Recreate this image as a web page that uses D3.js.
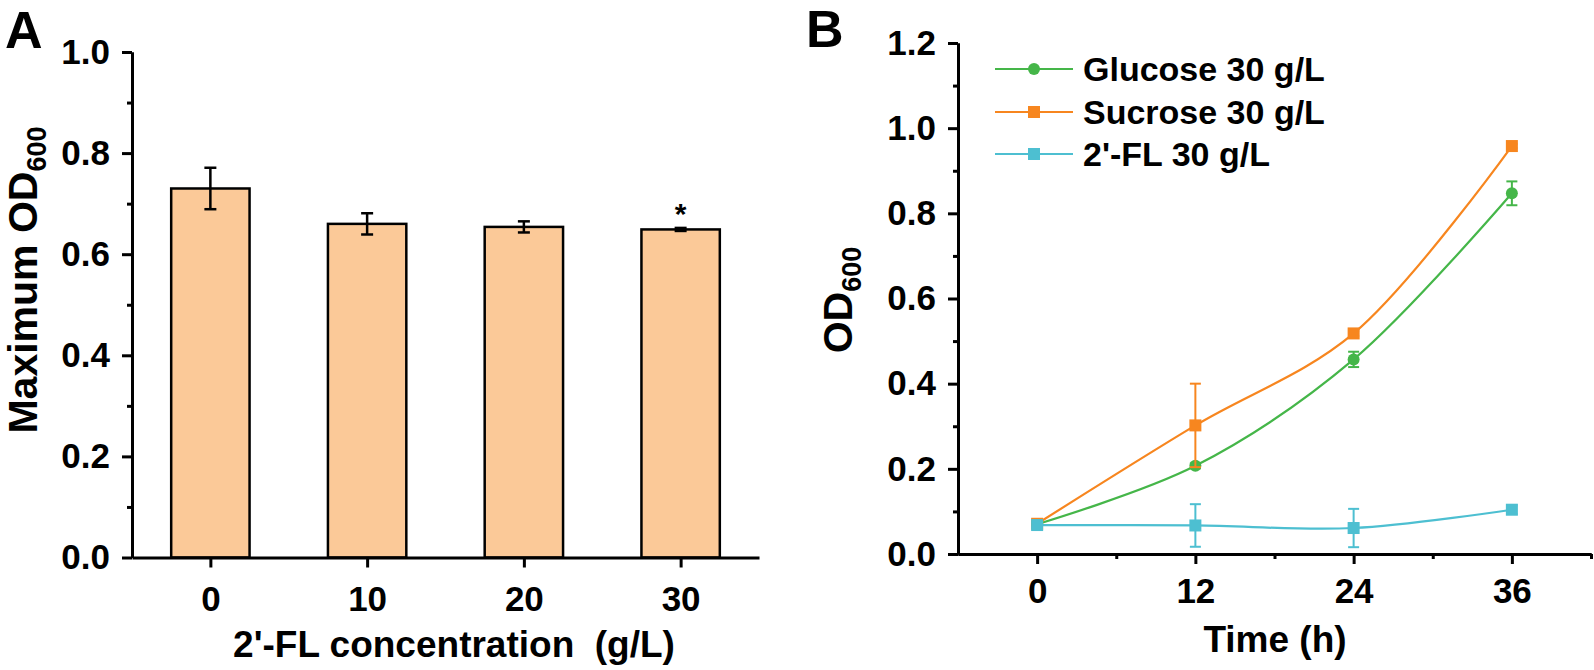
<!DOCTYPE html>
<html><head><meta charset="utf-8">
<script src="https://cdn.jsdelivr.net/npm/d3@7"></script>
<style>
body{margin:0;background:#fff;}
svg{display:block;}
text{font-family:"Liberation Sans",Arial,sans-serif;font-weight:bold;fill:#000;}
</style></head><body>
<svg id="c" width="1594" height="670"></svg>
<script>
// ---- Panel A data ----
const concCategories = [0, 10, 20, 30];
const maxOD = [0.730, 0.660, 0.654, 0.649];
const maxODErr = [0.041, 0.021, 0.011, 0.003];
const sigMarks = ["", "", "", "*"];
const aYTicks = [0, 0.2, 0.4, 0.6, 0.8, 1.0];
const aYMinor = [0.1, 0.3, 0.5, 0.7, 0.9];

// ---- Panel B data ----
const timePoints = [0, 12, 24, 36];
const seriesNames = ["Glucose 30 g/L", "Sucrose 30 g/L", "2'-FL 30 g/L"];
const glucose = [0.070, 0.207, 0.457, 0.847];
const glucoseErr = [0.004, 0.006, 0.018, 0.028];
const sucrose = [0.071, 0.302, 0.518, 0.958];
const sucroseErr = [0.004, 0.098, 0.006, 0.005];
const fl = [0.068, 0.067, 0.061, 0.104];
const flErr = [0.006, 0.050, 0.045, 0.010];
const seriesColors = ["#45b649", "#f7861f", "#4dbfd1"];
const seriesShapes = ["circle", "square", "square"];
const bXTicks = [0, 12, 24, 36];
const bXMinor = [6, 18, 30, 42];
const bYTicks = [0, 0.2, 0.4, 0.6, 0.8, 1.0, 1.2];
const bYMinor = [0.1, 0.3, 0.5, 0.7, 0.9, 1.1];

const svg = d3.select("#c");
const AX = 3;

function styleAxis(g) {
  g.selectAll("path.domain").attr("stroke", "#000").attr("stroke-width", AX);
  g.selectAll(".tick line").attr("stroke", "#000").attr("stroke-width", AX);
  g.selectAll(".tick text").style("font-size", "35px").attr("fill", "#000");
}

// ================= Panel A =================
const ax = d3.scaleLinear().domain([-5, 35]).range([132, 759]);
const ay = d3.scaleLinear().domain([0, 1]).range([557.5, 52]);

const gA = svg.append("g");
const bw = ax(5) - ax(0);
gA.selectAll("rect.bar").data(concCategories).join("rect")
  .attr("x", (d) => ax(d) - bw / 2)
  .attr("y", (d, i) => ay(maxOD[i]))
  .attr("width", bw)
  .attr("height", (d, i) => ay(0) - ay(maxOD[i]))
  .attr("fill", "#fbc998").attr("stroke", "#000").attr("stroke-width", 2.5);

concCategories.forEach((c, i) => {
  const x = ax(c), y1 = ay(maxOD[i] + maxODErr[i]), y0 = ay(maxOD[i] - maxODErr[i]);
  gA.append("line").attr("x1", x).attr("x2", x).attr("y1", y0).attr("y2", y1).attr("stroke", "#000").attr("stroke-width", 2.5);
  [y0, y1].forEach(yy => gA.append("line").attr("x1", x - 6).attr("x2", x + 6).attr("y1", yy).attr("y2", yy).attr("stroke", "#000").attr("stroke-width", 2.5));
  if (sigMarks[i]) gA.append("text").attr("x", x).attr("y", y1 - 4).attr("text-anchor", "middle").style("font-size", "30px").text(sigMarks[i]);
});

svg.append("g").attr("transform", `translate(${ax(-5)},0)`)
  .call(d3.axisLeft(ay).tickValues(aYMinor).tickSize(5).tickSizeOuter(0).tickFormat(""))
  .call(styleAxis);
svg.append("g").attr("transform", `translate(${ax(-5)},0)`)
  .call(d3.axisLeft(ay).tickValues(aYTicks).tickSize(10).tickSizeOuter(0).tickPadding(12).tickFormat(d3.format(".1f")))
  .call(styleAxis);
svg.append("g").attr("transform", `translate(0,${ay(0)})`)
  .call(d3.axisBottom(ax).tickValues(concCategories).tickSize(10).tickSizeOuter(0).tickPadding(19).tickFormat(d3.format("d")))
  .call(styleAxis);

svg.append("text").attr("x", 5).attr("y", 48).style("font-size", "52px").text("A");
svg.append("text").attr("x", 454).attr("y", 657).attr("text-anchor", "middle").style("font-size", "37px")
  .text("2'-FL concentration\u00a0\u00a0(g/L)");
const yTA = svg.append("text").attr("transform", "translate(37,280) rotate(-90)").attr("text-anchor", "middle").style("font-size", "41px");
yTA.append("tspan").text("Maximum OD");
yTA.append("tspan").attr("dy", 9).style("font-size", "27px").text("600");

// ================= Panel B =================
const bx = d3.scaleLinear().domain([-6, 42]).range([958, 1591]);
const by = d3.scaleLinear().domain([0, 1.2]).range([554, 43]);

svg.append("g").attr("transform", `translate(${bx(-6)},0)`)
  .call(d3.axisLeft(by).tickValues(bYMinor).tickSize(5).tickSizeOuter(0).tickFormat(""))
  .call(styleAxis);
svg.append("g").attr("transform", `translate(${bx(-6)},0)`)
  .call(d3.axisLeft(by).tickValues(bYTicks).tickSize(10).tickSizeOuter(0).tickPadding(12).tickFormat(d3.format(".1f")))
  .call(styleAxis);
svg.append("g").attr("transform", `translate(0,${by(0)})`)
  .call(d3.axisBottom(bx).tickValues(bXMinor).tickSize(5).tickSizeOuter(0).tickFormat(""))
  .call(styleAxis);
svg.append("g").attr("transform", `translate(0,${by(0)})`)
  .call(d3.axisBottom(bx).tickValues(bXTicks).tickSize(10).tickSizeOuter(0).tickPadding(14).tickFormat(d3.format("d")))
  .call(styleAxis);

const allSeries = [glucose, sucrose, fl];
const allErr = [glucoseErr, sucroseErr, flErr];
const line = d3.line().x((d, i) => bx(timePoints[i])).y(d => by(d)).curve(d3.curveCatmullRom.alpha(0.5));

function marker(g, shape, x, y, color) {
  if (shape === "circle") g.append("circle").attr("cx", x).attr("cy", y).attr("r", 6).attr("fill", color);
  else g.append("rect").attr("x", x - 6).attr("y", y - 6).attr("width", 12).attr("height", 12).attr("fill", color);
}

allSeries.forEach((vals, s) => {
  const g = svg.append("g");
  const col = seriesColors[s];
  g.append("path").datum(vals).attr("d", line).attr("fill", "none").attr("stroke", col).attr("stroke-width", 2.2);
  vals.forEach((v, i) => {
    const x = bx(timePoints[i]), e = allErr[s][i];
    const y0 = by(v - e), y1 = by(v + e);
    g.append("line").attr("x1", x).attr("x2", x).attr("y1", y0).attr("y2", y1).attr("stroke", col).attr("stroke-width", 2);
    [y0, y1].forEach(yy => g.append("line").attr("x1", x - 5.5).attr("x2", x + 5.5).attr("y1", yy).attr("y2", yy).attr("stroke", col).attr("stroke-width", 2));
    marker(g, seriesShapes[s], x, by(v), col);
  });
});

const legY = [69, 112, 154];
seriesNames.forEach((name, s) => {
  const g = svg.append("g");
  g.append("line").attr("x1", 995).attr("x2", 1073).attr("y1", legY[s]).attr("y2", legY[s]).attr("stroke", seriesColors[s]).attr("stroke-width", 2.2);
  marker(g, seriesShapes[s], 1034, legY[s], seriesColors[s]);
  g.append("text").attr("x", 1083).attr("y", legY[s]).attr("dy", "0.36em").style("font-size", "34px").text(name);
});

svg.append("text").attr("x", 806).attr("y", 47).style("font-size", "52px").text("B");
svg.append("text").attr("x", 1275).attr("y", 652).attr("text-anchor", "middle").style("font-size", "37px").text("Time (h)");
const yTB = svg.append("text").attr("transform", "translate(852,300) rotate(-90)").attr("text-anchor", "middle").style("font-size", "41px");
yTB.append("tspan").text("OD");
yTB.append("tspan").attr("dy", 9).style("font-size", "27px").text("600");
</script>
</body></html>
